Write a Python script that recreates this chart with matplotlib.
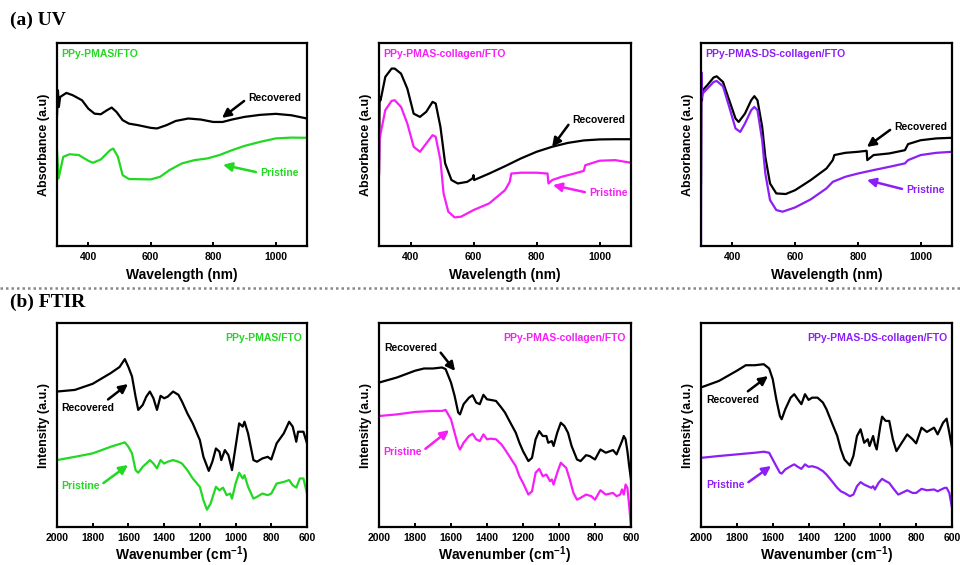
import numpy as np
import matplotlib
matplotlib.use('Agg')
import matplotlib.pyplot as plt
from matplotlib.lines import Line2D

plt.rcParams['font.family'] = ['Liberation Sans', 'DejaVu Sans']
plt.rcParams['font.weight'] = 'bold'
plt.rcParams['mathtext.fontset'] = 'custom'
plt.rcParams['mathtext.bf'] = 'Liberation Sans:bold'
plt.rcParams['mathtext.rm'] = 'Liberation Sans:bold'
plt.rcParams['mathtext.default'] = 'bf'

GREEN = '#22d822'
MAGENTA = '#f71ef7'
PURPLE = '#8c1ff5'

samples = ['PPy-PMAS/FTO', 'PPy-PMAS-collagen/FTO', 'PPy-PMAS-DS-collagen/FTO']
colors = [GREEN, MAGENTA, PURPLE]

# ---- UV (wavelength nm, absorbance a.u.) ----
uv1_rec_x = [300, 303, 306, 310, 330, 350, 380, 400, 420, 440, 460, 475, 490, 510, 530, 560, 600, 620,
             650, 680, 720, 760, 800, 830, 860, 900, 950, 1000, 1050, 1100]
uv1_rec_y = [64.4, 76.7, 68.5, 73.4, 75.4, 74.3, 71.8, 67.7, 65.2, 64.9, 66.9, 68.2, 66.1, 62.0, 60.3, 59.5,
             58.2, 57.9, 59.5, 61.6, 62.8, 62.3, 61.1, 61.1, 62.3, 63.6, 64.6, 65.1, 64.4, 62.8]
uv1_pri_x = [300, 305, 320, 340, 370, 400, 415, 440, 470, 480, 495, 510, 530, 600, 630, 660, 700, 740,
             780, 820, 860, 900, 950, 1000, 1050, 1100]
uv1_pri_y = [47.2, 33.3, 43.9, 45.2, 44.8, 42.0, 41.0, 42.6, 47.2, 48.0, 43.9, 34.9, 33.0, 32.8, 34.1,
             37.4, 40.7, 42.3, 43.1, 44.8, 47.2, 49.3, 51.3, 53.0, 53.4, 53.3]

uv2_rec_x = [300, 302, 305, 320, 340, 350, 370, 390, 410, 430, 450, 470, 480, 495, 510, 530, 550, 580,
             597, 600, 602, 650, 700, 750, 800, 850, 900, 950, 1000, 1050, 1100]
uv2_rec_y = [35.7, 73.4, 71.8, 83.3, 87.4, 87.4, 84.9, 77.5, 65.2, 63.6, 66.1, 71.0, 70.2, 58.7, 40.7,
             32.5, 30.8, 31.6, 33.3, 34.9, 32.5, 35.7, 39.3, 43.1, 46.4, 48.9, 50.8, 52.0, 52.5, 52.6, 52.6]
uv2_pri_x = [300, 302, 305, 320, 340, 350, 370, 390, 410, 430, 450, 470, 480, 495, 505, 520, 540, 560,
             600, 650, 700, 715, 720, 750, 800, 835, 838, 850, 880, 920, 950, 955, 1000, 1050, 1100]
uv2_pri_y = [35.7, 52.1, 55.4, 66.9, 71.5, 71.8, 68.5, 60.3, 48.9, 46.4, 50.5, 54.6, 53.8, 42.3, 25.9,
             16.9, 14.1, 14.4, 17.7, 21.0, 27.5, 31.6, 35.7, 36.1, 36.1, 35.7, 30.8, 32.5, 34.1, 35.7,
             37.0, 39.8, 42.0, 42.3, 41.0]

uv3_rec_x = [300, 301, 303, 305, 320, 340, 350, 370, 390, 410, 420, 440, 460, 470, 480, 495, 505, 520,
             540, 570, 600, 650, 700, 720, 725, 760, 800, 828, 830, 850, 900, 950, 960, 1000, 1050, 1100]
uv3_rec_y = [30.8, 81.6, 71.8, 76.7, 79.2, 83.0, 83.6, 80.8, 71.8, 62.8, 61.1, 65.2, 71.8, 73.8, 71.8,
             58.7, 43.9, 30.8, 25.9, 25.6, 27.5, 32.5, 38.2, 42.3, 44.8, 45.9, 46.4, 46.9, 42.3, 44.8,
             45.6, 47.2, 50.2, 52.1, 53.0, 53.3]
uv3_pri_x = [300, 301, 303, 305, 320, 340, 350, 370, 390, 410, 425, 440, 460, 470, 480, 495, 505, 520,
             540, 560, 600, 650, 700, 720, 760, 800, 850, 900, 950, 960, 1000, 1050, 1100]
uv3_pri_y = [0.0, 85.7, 73.4, 75.1, 77.5, 80.8, 81.3, 78.7, 68.5, 57.9, 56.2, 60.3, 66.9, 68.5, 66.9,
             52.1, 35.7, 22.6, 17.7, 16.9, 19.0, 23.0, 28.4, 31.6, 34.1, 35.7, 37.4, 39.0, 40.7, 42.3,
             44.8, 45.9, 46.4]

# ---- FTIR (wavenumber cm-1, intensity a.u.) ----
ir1_rec_x = [2000, 1900, 1800, 1700, 1650, 1620, 1600, 1580, 1560, 1545, 1520, 1500, 1480, 1460, 1440,
             1420, 1400, 1380, 1350, 1320, 1300, 1270, 1240, 1200, 1180, 1150, 1130, 1110, 1090, 1080,
             1060, 1040, 1020, 1000, 980, 960, 950, 930, 900, 880, 850, 820, 800, 770, 730, 700, 680,
             660, 650, 620, 600]
ir1_rec_y = [66.4, 67.2, 70.2, 75.4, 78.4, 82.3, 78.4, 73.8, 63.9, 57.4, 59.8, 63.9, 66.4, 63.1, 57.4,
             64.3, 63.1, 63.9, 66.4, 64.8, 61.5, 55.7, 50.8, 42.6, 34.4, 27.5, 32.0, 38.5, 36.9, 32.8,
             37.7, 35.2, 27.9, 39.3, 50.8, 49.2, 51.6, 45.9, 32.8, 32.0, 33.6, 34.4, 33.1, 41.0, 45.9,
             51.6, 49.2, 41.8, 46.7, 46.7, 41.0]
ir1_pri_x = [2000, 1900, 1800, 1700, 1620, 1600, 1580, 1560, 1545, 1520, 1500, 1480, 1460, 1440, 1420,
             1400, 1380, 1350, 1320, 1300, 1270, 1240, 1200, 1180, 1160, 1140, 1110, 1090, 1070, 1050,
             1030, 1020, 1000, 980, 960, 950, 930, 900, 880, 850, 820, 800, 770, 730, 700, 680, 660,
             640, 620, 600]
ir1_pri_y = [32.8, 34.4, 36.1, 39.3, 41.5, 39.3, 36.1, 27.9, 26.6, 29.5, 31.1, 32.8, 31.1, 28.7, 32.8,
             31.1, 32.0, 32.8, 32.0, 31.1, 27.9, 23.8, 19.7, 13.1, 8.5, 11.5, 19.7, 18.0, 19.3, 15.6,
             16.4, 13.9, 21.3, 26.6, 23.8, 25.4, 19.7, 13.9, 14.8, 16.4, 15.6, 16.4, 21.3, 22.1, 23.0,
             20.5, 19.3, 23.8, 23.8, 16.4]

ir2_rec_x = [2000, 1900, 1800, 1750, 1700, 1650, 1630, 1600, 1580, 1560, 1550, 1530, 1500, 1480, 1460,
             1440, 1420, 1400, 1380, 1350, 1320, 1300, 1270, 1240, 1220, 1200, 1170, 1150, 1130, 1110,
             1090, 1070, 1060, 1040, 1030, 1010, 990, 970, 950, 930, 900, 880, 850, 830, 800, 770, 740,
             700, 680, 650, 640, 630, 620, 610, 600]
ir2_rec_y = [70.8, 73.3, 76.6, 77.7, 77.7, 78.2, 77.4, 70.8, 64.3, 56.1, 55.2, 60.2, 63.4, 64.6, 61.0,
             60.2, 64.8, 62.6, 62.3, 61.8, 58.5, 56.1, 51.1, 46.2, 41.3, 37.2, 32.3, 33.9, 43.0, 47.0,
             44.6, 44.6, 41.3, 42.1, 39.7, 46.2, 51.1, 49.5, 46.2, 39.7, 33.1, 32.3, 35.2, 34.8, 33.1,
             38.0, 36.4, 37.7, 35.6, 42.1, 44.6, 43.0, 37.2, 29.8, 23.3]
ir2_pri_x = [2000, 1900, 1800, 1700, 1650, 1630, 1600, 1580, 1560, 1550, 1530, 1500, 1480, 1460, 1440,
             1420, 1400, 1380, 1350, 1320, 1300, 1270, 1240, 1220, 1200, 1170, 1150, 1130, 1110, 1090,
             1070, 1050, 1040, 1030, 1010, 990, 970, 960, 940, 920, 900, 880, 850, 820, 800, 770, 740,
             700, 680, 660, 650, 640, 630, 620, 610, 600]
ir2_pri_y = [54.4, 55.2, 56.4, 56.9, 56.9, 57.4, 52.8, 46.2, 39.7, 38.0, 41.3, 44.6, 45.7, 43.0, 42.1,
             45.4, 43.0, 43.3, 43.0, 40.5, 38.0, 33.9, 29.8, 24.9, 21.6, 15.9, 17.5, 26.6, 28.5, 24.9,
             25.7, 22.5, 23.3, 20.8, 26.6, 31.5, 29.8, 29.0, 23.3, 16.7, 13.4, 14.3, 15.9, 15.1, 13.4,
             18.0, 15.9, 16.7, 15.1, 15.9, 18.4, 15.9, 20.8, 19.2, 10.2, 0.3]

ir3_rec_x = [2000, 1900, 1800, 1750, 1700, 1650, 1620, 1600, 1580, 1560, 1550, 1530, 1500, 1480, 1460,
             1440, 1420, 1400, 1380, 1350, 1320, 1300, 1270, 1240, 1220, 1200, 1170, 1150, 1130, 1110,
             1090, 1070, 1060, 1040, 1030, 1020, 1000, 990, 970, 950, 930, 910, 880, 850, 820, 800, 770,
             740, 700, 680, 650, 630, 615, 600]
ir3_rec_y = [68.4, 71.6, 76.6, 79.3, 79.3, 79.8, 77.7, 72.5, 62.6, 54.4, 52.8, 57.7, 63.4, 65.1, 62.6,
             60.2, 65.1, 62.3, 63.4, 63.4, 61.0, 57.7, 51.1, 44.6, 38.0, 33.1, 30.2, 34.8, 44.6, 47.9,
             41.3, 43.0, 39.7, 44.6, 40.5, 38.0, 49.5, 54.1, 52.0, 52.0, 43.0, 37.2, 41.3, 45.4, 43.0,
             41.0, 48.7, 46.6, 48.7, 45.4, 51.1, 53.1, 46.2, 38.9]
ir3_pri_x = [2000, 1900, 1800, 1700, 1650, 1620, 1600, 1580, 1560, 1550, 1530, 1500, 1480, 1460, 1440,
             1420, 1400, 1380, 1350, 1320, 1300, 1270, 1240, 1220, 1200, 1170, 1150, 1130, 1110, 1090,
             1070, 1050, 1040, 1030, 1010, 990, 970, 950, 930, 900, 880, 850, 820, 800, 770, 740, 700,
             680, 660, 640, 630, 615, 600]
ir3_pri_y = [33.9, 34.8, 35.6, 36.4, 36.9, 36.4, 33.1, 29.8, 26.6, 26.2, 28.2, 29.8, 30.7, 29.5, 28.5,
             30.7, 29.5, 29.8, 29.0, 27.4, 25.7, 22.5, 19.2, 17.5, 16.7, 15.1, 15.9, 20.0, 22.0, 20.8,
             20.0, 19.2, 20.0, 18.4, 21.6, 23.6, 22.5, 21.6, 19.2, 15.9, 16.7, 18.0, 16.7, 16.7, 18.7,
             18.0, 18.4, 17.5, 18.4, 19.2, 19.2, 16.7, 9.3]

uv_data = [(uv1_rec_x, uv1_rec_y, uv1_pri_x, uv1_pri_y),
           (uv2_rec_x, uv2_rec_y, uv2_pri_x, uv2_pri_y),
           (uv3_rec_x, uv3_rec_y, uv3_pri_x, uv3_pri_y)]
ir_data = [(ir1_rec_x, ir1_rec_y, ir1_pri_x, ir1_pri_y),
           (ir2_rec_x, ir2_rec_y, ir2_pri_x, ir2_pri_y),
           (ir3_rec_x, ir3_rec_y, ir3_pri_x, ir3_pri_y)]

W, H = 960, 565
fig = plt.figure(figsize=(9.6, 5.65), dpi=100)
fig.patch.set_facecolor('white')


def rect(x0, x1, y0, y1):
    return [x0 / W, 1 - y1 / H, (x1 - x0) / W, (y1 - y0) / H]


cols = [(57, 307), (379, 631), (701, 952)]

# annotation layout: (text xy, arrow tip xy, relpos) in axes fraction
uv_ann = [
    [((0.764, 0.729), (0.66, 0.631), (0, 0.5)), ((0.812, 0.36), (0.664, 0.40), (0, 0.5))],
    [((0.766, 0.621), (0.687, 0.488), (0, 0.5)), ((0.833, 0.261), (0.69, 0.30), (0, 0.5))],
    [((0.769, 0.586), (0.661, 0.488), (0, 0.5)), ((0.817, 0.276), (0.661, 0.325), (0, 0.5))],
]
ir_ann = [
    [((0.016, 0.583), (0.284, 0.701), (0.8, 1)), ((0.016, 0.201), (0.284, 0.304), (1, 0.5))],
    [((0.02, 0.877), (0.302, 0.765), (1, 0.5)), ((0.016, 0.368), (0.278, 0.475), (1, 0.5))],
    [((0.02, 0.623), (0.267, 0.740), (0.7, 1)), ((0.02, 0.206), (0.279, 0.299), (1, 0.5))],
]


def style_axes(ax):
    for s in ax.spines.values():
        s.set_linewidth(1.6)
    ax.set_yticks([])
    ax.tick_params(axis='x', direction='in', length=3, width=1.4, labelsize=7.5, pad=4)
    for lab in ax.get_xticklabels():
        lab.set_fontweight('bold')


def annotate(ax, label, color, spec):
    txt, tip, rp = spec
    ax.annotate(label, xy=tip, xytext=txt, xycoords='axes fraction', textcoords='axes fraction',
                ha='left', va='center', fontsize=7.5, fontweight='bold', color=color,
                arrowprops=dict(arrowstyle='-|>', color=color, lw=1.8, mutation_scale=13,
                                shrinkA=1, shrinkB=0, relpos=rp))


for i in range(3):
    x0, x1 = cols[i]
    c = colors[i]

    # UV row
    ax = fig.add_axes(rect(x0, x1, 43, 246))
    rx, ry, px, py = uv_data[i]
    ax.plot(rx, ry, color='black', lw=1.6)
    ax.plot(px, py, color=c, lw=1.6)
    ax.set_xlim(300, 1100)
    ax.set_ylim(0, 100)
    ax.set_xticks([400, 600, 800, 1000])
    style_axes(ax)
    ax.set_xlabel('Wavelength (nm)', fontsize=10, fontweight='bold', labelpad=5)
    ax.set_ylabel('Absorbance (a.u)', fontsize=9, fontweight='bold', labelpad=5)
    ax.text(0.016, 0.946, samples[i], transform=ax.transAxes, color=c, fontsize=7.5,
            fontweight='bold', ha='left', va='center')
    annotate(ax, 'Recovered', 'black', uv_ann[i][0])
    annotate(ax, 'Pristine', c, uv_ann[i][1])

    # FTIR row
    ax = fig.add_axes(rect(x0, x1, 323, 527))
    rx, ry, px, py = ir_data[i]
    ax.plot(rx, ry, color='black', lw=1.6)
    ax.plot(px, py, color=c, lw=1.6)
    ax.set_xlim(2000, 600)
    ax.set_ylim(0, 100)
    ax.set_xticks([2000, 1800, 1600, 1400, 1200, 1000, 800, 600])
    style_axes(ax)
    ax.set_xlabel(r'Wavenumber (cm$^{-1}$)', fontsize=10, fontweight='bold', labelpad=1)
    ax.set_ylabel('Intensity (a.u.)', fontsize=9, fontweight='bold', labelpad=5)
    ax.text(0.98, 0.926, samples[i], transform=ax.transAxes, color=c, fontsize=7.5,
            fontweight='bold', ha='right', va='center')
    annotate(ax, 'Recovered', 'black', ir_ann[i][0])
    annotate(ax, 'Pristine', c, ir_ann[i][1])

fig.text(10 / W, 1 - 20 / H, '(a) UV', fontsize=14, fontweight='bold',
         family=['Liberation Serif', 'DejaVu Serif'], ha='left', va='center')
fig.text(10 / W, 1 - 302 / H, '(b) FTIR', fontsize=14, fontweight='bold',
         family=['Liberation Serif', 'DejaVu Serif'], ha='left', va='center')

fig.add_artist(Line2D([0, 1], [1 - 288 / H, 1 - 288 / H], transform=fig.transFigure,
                      color='#888888', lw=1.8, linestyle=(0, (1, 1.2))))

fig.savefig('out.png', dpi=100)
